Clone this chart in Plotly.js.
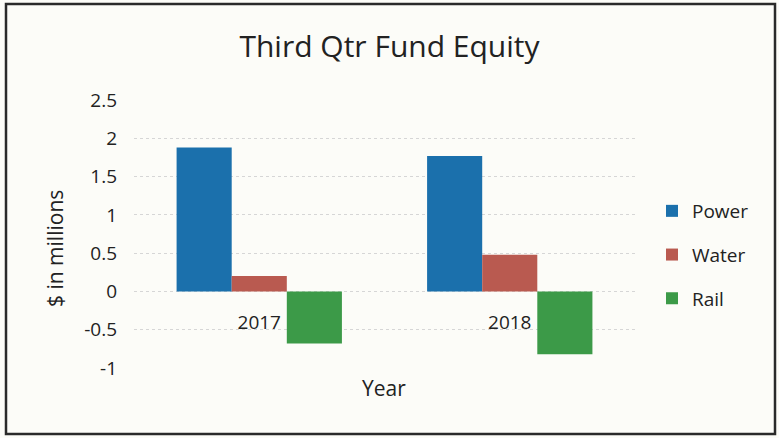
<!DOCTYPE html>
<html>
<head>
<meta charset="utf-8">
<script src="https://cdn.plot.ly/plotly-3.0.1.min.js"></script>
<style>
  html, body { margin: 0; padding: 0; background: #fcfcf8; }
  #chart { width: 779px; height: 438px; }
</style>
</head>
<body>
<div id="chart"></div>
<script>
const years = ['2017', '2018'];
const power = [1.88, 1.77];
const water = [0.20, 0.48];
const rail = [-0.68, -0.82];
const yTicks = [-1, -0.5, 0, 0.5, 1, 1.5, 2, 2.5];
const yTickText = ['-1', '-0.5', '0', '0.5', '1', '1.5', '2', '2.5'];

const FONT = 'Open Sans, Lato, sans-serif';
const INK = '#222222';

const traces = [
  { type: 'bar', name: 'Power', legendgroup: 'p', x: years, y: power, marker: { color: '#1b70ac' } },
  { type: 'bar', name: 'Water', legendgroup: 'w', x: years, y: water, marker: { color: '#b95a50' } },
  { type: 'bar', name: 'Rail', legendgroup: 'r', x: years, y: rail, marker: { color: '#3c9a48' } }
];

const W = 779, H = 438;
const m = { l: 134, r: 144, t: 100, b: 70 };
const pw = W - m.l - m.r, ph = H - m.t - m.b;
const px = v => (v - m.l) / pw;          // pixel x -> paper
const py = v => (H - m.b - v) / ph;      // pixel y -> paper
const yMin = -1, yMax = 2.5;

const layout = {
  width: W, height: H,
  margin: m,
  paper_bgcolor: '#fcfcf8',
  plot_bgcolor: '#fcfcf8',
  font: { family: FONT, color: INK },
  title: { text: 'Third Qtr Fund Equity', font: { size: 30, family: FONT, color: INK },
           x: 0.5, xanchor: 'center', y: 1 - 46 / H, yanchor: 'middle' },
  barmode: 'group',
  bargap: 0.34,
  bargroupgap: 0,
  xaxis: {
    type: 'category',
    anchor: 'free',
    position: (0 - yMin) / (yMax - yMin),
    showgrid: false, showline: false, zeroline: false,
    ticks: '', ticklabelstandoff: 18,
    tickfont: { size: 19, family: FONT, color: INK }
  },
  yaxis: {
    range: [yMin, yMax],
    tickvals: yTicks, ticktext: yTickText,
    showgrid: true, gridcolor: '#d6d6d6', griddash: 'dot', gridwidth: 1,
    zeroline: false, showline: false, ticks: '',
    ticklabelstandoff: 16,
    tickfont: { size: 19, family: FONT, color: INK }
  },
  legend: {
    x: px(652), xanchor: 'left', y: py(192), yanchor: 'top',
    bgcolor: 'rgba(0,0,0,0)',
    font: { size: 19, family: FONT, color: INK },
    traceorder: 'grouped',
    tracegroupgap: 16
  },
  annotations: [
    { text: '$ in millions', xref: 'paper', yref: 'paper', x: px(55), y: py(249),
      textangle: -90, showarrow: false, font: { size: 21, family: FONT, color: INK },
      xanchor: 'center', yanchor: 'middle' },
    { text: 'Year', xref: 'paper', yref: 'paper', x: px(384), y: py(388),
      showarrow: false, font: { size: 21, family: FONT, color: INK },
      xanchor: 'center', yanchor: 'middle' }
  ],
  shapes: [
    { type: 'rect', xref: 'paper', yref: 'paper',
      x0: px(6), x1: px(775), y0: py(434), y1: py(4),
      line: { color: '#2a2a2a', width: 2.5 }, fillcolor: 'rgba(0,0,0,0)', layer: 'above' }
  ]
};

Plotly.newPlot('chart', traces, layout, { displayModeBar: false, staticPlot: true });
</script>
</body>
</html>
